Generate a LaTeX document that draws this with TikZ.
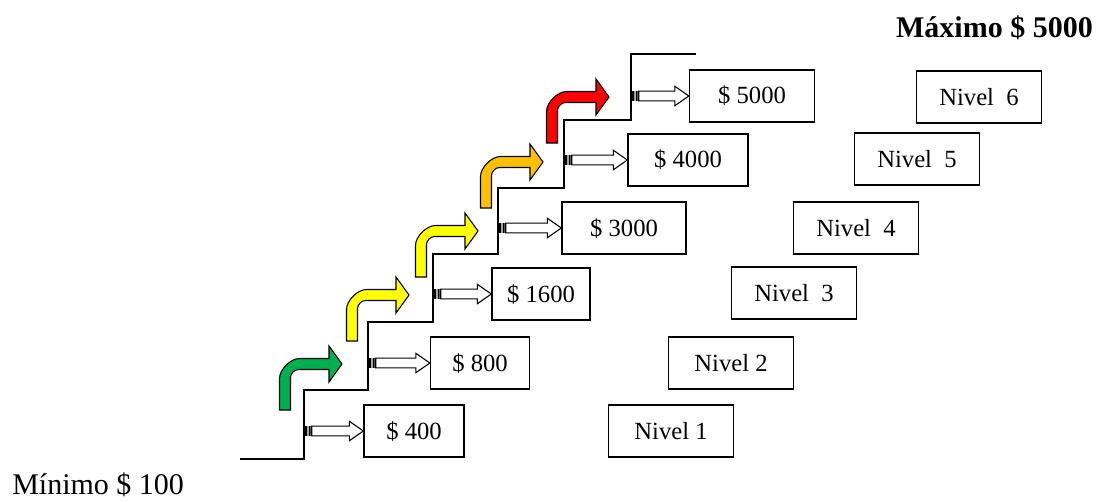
\documentclass[tikz,border=0pt]{standalone}
\usepackage{fontspec}
\setmainfont{Liberation Serif}
\usepackage{tikz}
\usetikzlibrary{calc}
\definecolor{stepgreen}{RGB}{0,176,80}
\definecolor{stepyellow}{RGB}{255,255,0}
\definecolor{steporange}{RGB}{255,192,0}
\definecolor{stepred}{RGB}{255,0,0}

% striped block arrow from the stair (#1) to a box anchor (#2)
\newcommand{\stripedarrow}[2]{%
  \fill let \p1=(#1 |- #2), \p2=(#2) in
    (\x1,\y2-3.6pt) rectangle (\x1+2.6pt,\y2+3.6pt)
    (\x1+3.5pt,\y2-3.6pt) rectangle (\x1+5pt,\y2+3.6pt);
  \draw[line width=0.8pt] let \p1=(#1 |- #2), \p2=(#2) in
    (\x1+5.8pt,\y2-3.6pt) -- (\x2-10.5pt,\y2-3.6pt) -- (\x2-10.5pt,\y2-7.3pt)
    -- (\x2,\y2) -- (\x2-10.5pt,\y2+7.3pt) -- (\x2-10.5pt,\y2+3.6pt)
    -- (\x1+5.8pt,\y2+3.6pt) -- cycle;
}
% bent (up then right) arrow, #1 colour, bottom centre at (#2,#3)
\newcommand{\bentarrow}[3]{%
  \begin{scope}[shift={(#2,#3)}]
    \filldraw[fill=#1, line width=0.8pt, line join=miter]
      (-5.5,0) -- (-5.5,-31.5) .. controls (-5.5,-40.5) and (5.5,-51.5) .. (14.5,-51.5)
      -- (44,-51.5) -- (44,-64) -- (57,-46) -- (44,-28) -- (44,-40.5)
      -- (13.5,-40.5) .. controls (9.1,-40.5) and (5.5,-36.1) .. (5.5,-32.5)
      -- (5.5,0) -- cycle;
  \end{scope}
}

\begin{document}
\begin{tikzpicture}[x=0.75pt, y=-0.75pt,
    valbox/.style={draw, line width=1pt, minimum height=39pt, inner sep=0pt,
      font=\fontsize{18.5}{22}\selectfont},
    lvlbox/.style={valbox, minimum width=93.75pt},
    endtext/.style={inner sep=0pt, font=\fontsize{22.5}{27}\selectfont}]
  \useasboundingbox (0,0) rectangle (1106,501);

  % the stair
  \draw[line width=1pt] (240,459) -- (304,459) -- (304,390) -- (368,390)
    -- (368,322) -- (433,322) -- (433,254) -- (498,254) -- (498,188)
    -- (564,188) -- (564,120) -- (631,120) -- (631,54) -- (696,54);
  \coordinate (s1) at (304,0);
  \coordinate (s2) at (368,0);
  \coordinate (s3) at (433,0);
  \coordinate (s4) at (498,0);
  \coordinate (s5) at (564,0);
  \coordinate (s6) at (631,0);

  % amounts
  \node[valbox, minimum width=75pt]    (v400)  at (414,431) {\$ 400};
  \node[valbox, minimum width=74.25pt] (v800)  at (480,363) {\$ 800};
  \node[valbox, minimum width=73.5pt]  (v1600) at (541,294) {\$ 1600};
  \node[valbox, minimum width=93pt]    (v3000) at (624,228) {\$ 3000};
  \node[valbox, minimum width=90pt]    (v4000) at (688,160) {\$ 4000};
  \node[valbox, minimum width=93.75pt] (v5000) at (752,96)  {\$ 5000};

  % levels
  \node[lvlbox] (n1) at (671,431) {Nivel 1};
  \node[lvlbox] (n2) at (731,363) {Nivel 2};
  \node[lvlbox] (n3) at (794,293) {Nivel\ \ 3};
  \node[lvlbox] (n4) at (856,228) {Nivel\ \ 4};
  \node[lvlbox] (n5) at (917,159) {Nivel\ \ 5};
  \node[lvlbox] (n6) at (979,97)  {Nivel\ \ 6};

  % arrows from the stair to the amounts
  \stripedarrow{s1}{v400.west}
  \stripedarrow{s2}{v800.west}
  \stripedarrow{s3}{v1600.west}
  \stripedarrow{s4}{v3000.west}
  \stripedarrow{s5}{v4000.west}
  \stripedarrow{s6}{v5000.west}

  % bent arrows up the stair
  \bentarrow{stepgreen}{285}{410}
  \bentarrow{stepyellow}{352}{341}
  \bentarrow{stepyellow}{421}{277}
  \bentarrow{steporange}{486}{208}
  \bentarrow{stepred}{552}{143}

  \node[endtext, anchor=base west] (minimo) at (12,494) {Mínimo \$ 100};
  \node[endtext, anchor=base east, font=\bfseries\fontsize{22.5}{27}\selectfont]
    (maximo) at (1093,37) {Máximo \$ 5000};
\end{tikzpicture}
\end{document}
